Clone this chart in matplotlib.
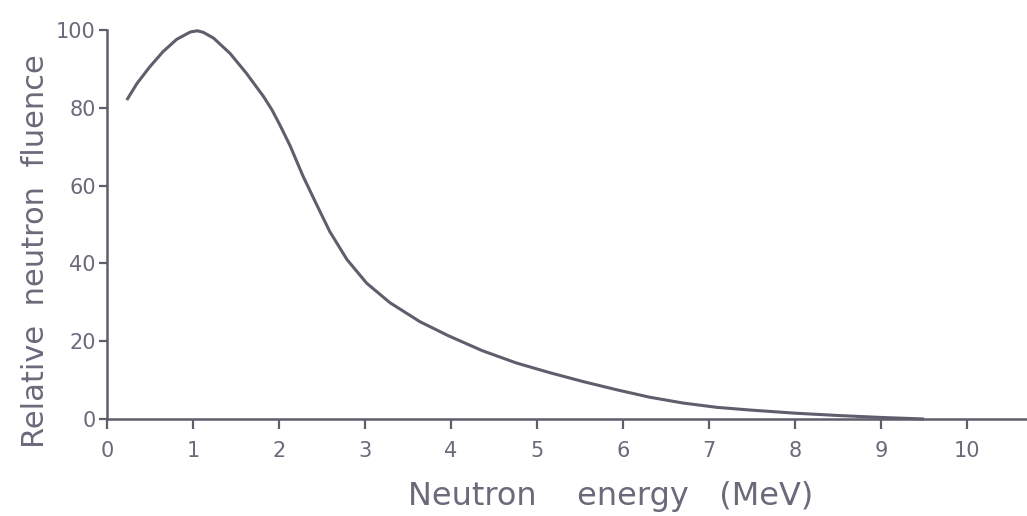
import matplotlib
matplotlib.use("Agg")
import matplotlib.pyplot as plt

# values
energy_mev = [0.23, 0.35, 0.50, 0.65, 0.81, 0.97, 1.05, 1.12, 1.24, 1.43,
              1.62, 1.82, 1.92, 2.01, 2.13, 2.28, 2.44, 2.59, 2.79, 3.02,
              3.29, 3.64, 3.97, 4.36, 4.76, 5.15, 5.54, 5.93, 6.31, 6.70,
              7.09, 7.48, 8.0, 8.5, 9.0, 9.5]
fluence = [82.0, 86.3, 90.6, 94.4, 97.6, 99.5, 99.8, 99.4, 97.9, 94.0,
           88.9, 82.9, 79.4, 75.6, 70.2, 62.4, 55.0, 48.2, 41.0, 34.9,
           29.9, 25.0, 21.4, 17.6, 14.4, 11.9, 9.6, 7.5, 5.6, 4.1,
           3.0, 2.3, 1.5, 0.9, 0.4, 0.0]
x_ticks = [0, 1, 2, 3, 4, 5, 6, 7, 8, 9, 10]
y_ticks = [0, 20, 40, 60, 80, 100]

ink = "#5e5e6c"
text_c = "#6a6a7a"

fig = plt.figure(figsize=(10.27, 5.16), dpi=100)
ax = fig.add_axes([107 / 1027, 97 / 516, 920 / 1027, 389 / 516])

ax.plot(energy_mev, fluence, color=ink, lw=2.2, clip_on=False,
        solid_capstyle="butt", solid_joinstyle="round")

ax.set_xlim(0, 920 / 86)
ax.set_ylim(0, 100)
ax.set_xticks(x_ticks)
ax.set_yticks(y_ticks)

for s in ["top", "right"]:
    ax.spines[s].set_visible(False)
for s in ["left", "bottom"]:
    ax.spines[s].set_color(ink)
    ax.spines[s].set_linewidth(1.8)

ax.tick_params(axis="x", direction="out", length=7, width=1.6, color=ink,
               pad=9, labelsize=15, labelcolor=text_c)
ax.tick_params(axis="y", direction="out", length=6, width=1.6, color=ink,
               pad=2, labelsize=15, labelcolor=text_c)

ax.text((611 - 107) / 920, (419 - 505) / 389, "Neutron    energy   (MeV)",
        transform=ax.transAxes, ha="center", va="baseline",
        fontsize=23, color=text_c)
ax.text((44 - 107) / 920, (419 - 251) / 389, "Relative  neutron  fluence",
        transform=ax.transAxes, ha="center", va="baseline", rotation=90,
        rotation_mode="anchor", fontsize=22, color=text_c)

fig.savefig("out.png", dpi=100)
